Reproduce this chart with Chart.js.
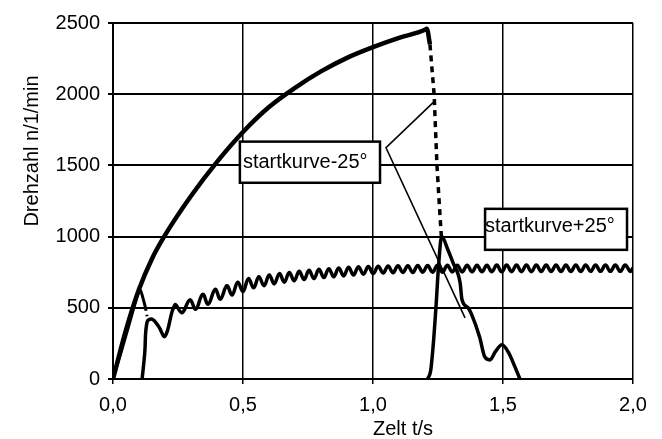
<!DOCTYPE html>
<html>
<head>
<meta charset="utf-8">
<script src="https://cdn.jsdelivr.net/npm/chart.js@4"></script>
<style>
  body { margin: 0; background: #fff; }
</style>
</head>
<body>
<canvas id="chart" width="662" height="439"></canvas>
<script>
// Drehzahl curves (t in s, n in 1/min)
const bigTime = [0, 0.05, 0.1, 0.15, 0.2, 0.3, 0.4, 0.5, 0.6, 0.7, 0.8, 0.9, 1.0, 1.1, 1.2, 1.207, 1.219];
const bigRpm  = [0, 345, 630, 845, 1010, 1285, 1525, 1735, 1910, 2045, 2160, 2255, 2330, 2395, 2452, 2460, 2350];

// fast drop of the big curve (dashed in the figure)
const dropTime = [1.219, 1.235, 1.246, 1.257, 1.263];
const dropRpm  = [2350, 2000, 1500, 1170, 1000];

// first short spike near the start
const spikeTime = [0, 0.03, 0.06, 0.09, 0.104, 0.115, 0.125];
const spikeRpm  = [0, 180, 370, 560, 627, 570, 500];
const spikeDropTime = [0.125, 0.131];
const spikeDropRpm  = [500, 440];

// oscillating curve that settles around 780
const oscTime = [0.112, 0.122, 0.131, 0.150, 0.175, 0.200, 0.238, 0.265, 0.296, 0.318, 0.345, 0.366, 0.393, 0.413,
  0.438, 0.458, 0.480, 0.500, 0.521, 0.541, 0.561, 0.581, 0.601, 0.620, 0.640, 0.659, 0.678, 0.697, 0.716, 0.735,
  0.754, 0.773, 0.792, 0.811, 0.830, 0.849, 0.868, 0.887, 0.906, 0.925, 0.944, 0.963, 0.982, 1.001, 1.020, 1.039,
  1.058, 1.077, 1.096, 1.115, 1.134, 1.153, 1.172, 1.191, 1.210, 1.229, 1.248, 1.267, 1.286, 1.305, 1.324, 1.343,
  1.362, 1.381, 1.400, 1.419, 1.438, 1.457, 1.476, 1.495, 1.514, 1.533, 1.552, 1.571, 1.590, 1.609, 1.628, 1.647,
  1.666, 1.685, 1.704, 1.723, 1.742, 1.761, 1.780, 1.799, 1.818, 1.837, 1.856, 1.875, 1.894, 1.913, 1.932, 1.951,
  1.970, 1.989, 2.000];
const oscRpm = [0, 180, 400, 420, 370, 300, 520, 465, 556, 490, 595, 525, 630, 560,
  655, 590, 680, 615, 705, 640, 718, 655, 730, 668, 740, 680, 748, 690, 756, 698,
  763, 705, 770, 712, 775, 718, 780, 724, 784, 730, 788, 736, 790, 740, 792, 744,
  794, 746, 795, 748, 796, 748, 797, 750, 797, 750, 798, 750, 798, 752, 798, 752,
  799, 752, 799, 753, 799, 753, 800, 753, 800, 754, 800, 754, 800, 754, 800, 755,
  800, 755, 801, 755, 801, 755, 801, 755, 801, 756, 801, 756, 801, 756, 801, 756,
  801, 756, 780];

// second peak around 1,26 s
const peakTime = [1.21, 1.222, 1.231, 1.242, 1.252, 1.264, 1.288, 1.308, 1.335, 1.342, 1.366, 1.38, 1.41, 1.43, 1.45, 1.47, 1.496, 1.52, 1.546, 1.565];
const peakRpm  = [0, 60, 225, 500, 790, 1000, 908, 815, 676, 560, 500, 450, 295, 155, 134, 190, 240, 190, 85, 0];

const xTickLabels = ['0,0', '0,5', '1,0', '1,5', '2,0'];
const yTicks = [0, 500, 1000, 1500, 2000, 2500];

// label boxes and the callout of the -25° curve, in axis units
const labelBoxes = [
  { text: 'startkurve-25°', t0: 0.488, t1: 1.027, n0: 1667, n1: 1378, dx: 3, base: 26 },
  { text: 'startkurve+25°', t0: 1.431, t1: 1.977, n0: 1195, n1: 907, dx: 0, base: 23 }
];
const calloutTime = [1.231, 1.05, 1.354];
const calloutRpm  = [1941, 1624, 429];

function pts(xs, ys) {
  return xs.map((x, i) => ({ x: x, y: ys[i] }));
}

Chart.defaults.font.family = '"Liberation Sans", Arial, sans-serif';
Chart.defaults.font.size = 20;
Chart.defaults.color = '#000';

const labelsPlugin = {
  id: 'labels',
  afterDatasetsDraw(chart) {
    const ctx = chart.ctx;
    const xs = chart.scales.x, ys = chart.scales.y;
    ctx.save();
    // callout lines
    ctx.strokeStyle = '#000';
    ctx.lineWidth = 1.6;
    ctx.beginPath();
    ctx.moveTo(xs.getPixelForValue(calloutTime[0]), ys.getPixelForValue(calloutRpm[0]));
    ctx.lineTo(xs.getPixelForValue(calloutTime[1]), ys.getPixelForValue(calloutRpm[1]));
    ctx.lineTo(xs.getPixelForValue(calloutTime[2]), ys.getPixelForValue(calloutRpm[2]));
    ctx.stroke();

    labelBoxes.forEach(b => {
      const l = xs.getPixelForValue(b.t0), r = xs.getPixelForValue(b.t1);
      const t = ys.getPixelForValue(b.n0), btm = ys.getPixelForValue(b.n1);
      ctx.fillStyle = '#fff';
      ctx.fillRect(l, t, r - l, btm - t);
      ctx.lineWidth = 2.5;
      ctx.strokeRect(l, t, r - l, btm - t);
      ctx.fillStyle = '#000';
      ctx.font = '20px "Liberation Sans", Arial, sans-serif';
      ctx.textAlign = 'left';
      ctx.textBaseline = 'alphabetic';
      ctx.fillText(b.text, l + b.dx, t + b.base);
    });

    // axis titles
    ctx.font = '20px "Liberation Sans", Arial, sans-serif';
    ctx.textAlign = 'center';
    ctx.fillText('Zelt t/s', 403, 435);
    ctx.translate(38, 151);
    ctx.rotate(-Math.PI / 2);
    ctx.fillText('Drehzahl n/1/min', 0, 0);
    ctx.restore();
  }
};

const lineBase = { showLine: true, pointRadius: 0, borderColor: '#000', fill: false };

new Chart(document.getElementById('chart'), {
  type: 'scatter',
  data: {
    datasets: [
      { ...lineBase, label: 'Anlauf', data: pts(bigTime, bigRpm), borderWidth: 4.5, cubicInterpolationMode: 'monotone' },
      { ...lineBase, label: 'Abfall', data: pts(dropTime, dropRpm), borderWidth: 3.5, borderDash: [6, 5], tension: 0 },
      { ...lineBase, label: 'Spitze', data: pts(spikeTime, spikeRpm), borderWidth: 3, cubicInterpolationMode: 'monotone' },
      { ...lineBase, label: 'Spitze Abfall', data: pts(spikeDropTime, spikeDropRpm), borderWidth: 3, borderDash: [3, 4], tension: 0 },
      { ...lineBase, label: 'Schwingung', data: pts(oscTime, oscRpm), borderWidth: 3.5, tension: 0.4 },
      { ...lineBase, label: 'Peak', data: pts(peakTime, peakRpm), borderWidth: 3.5, cubicInterpolationMode: 'monotone' }
    ]
  },
  options: {
    responsive: false,
    animation: false,
    layout: { padding: { top: 23, right: 29, left: 0, bottom: 0 } },
    plugins: { legend: { display: false }, tooltip: { enabled: false } },
    scales: {
      x: {
        type: 'linear',
        min: 0,
        max: 2,
        afterBuildTicks: s => { s.ticks = [0, 0.5, 1, 1.5, 2].map(v => ({ value: v })); },
        afterFit: s => { s.height = 60; },
        ticks: {
          padding: 9,
          maxRotation: 0,
          callback: (val, i) => xTickLabels[i]
        },
        grid: { color: '#000', lineWidth: 1.5, tickLength: 5 },
        border: { color: '#000', width: 2 }
      },
      y: {
        min: 0,
        max: 2500,
        afterBuildTicks: s => { s.ticks = yTicks.map(v => ({ value: v })); },
        afterFit: s => { s.width = 113; },
        ticks: { padding: 8, callback: val => String(val) },
        grid: { color: '#000', lineWidth: 2, tickLength: 5 },
        border: { color: '#000', width: 2 }
      }
    }
  },
  plugins: [labelsPlugin]
});
</script>
</body>
</html>
